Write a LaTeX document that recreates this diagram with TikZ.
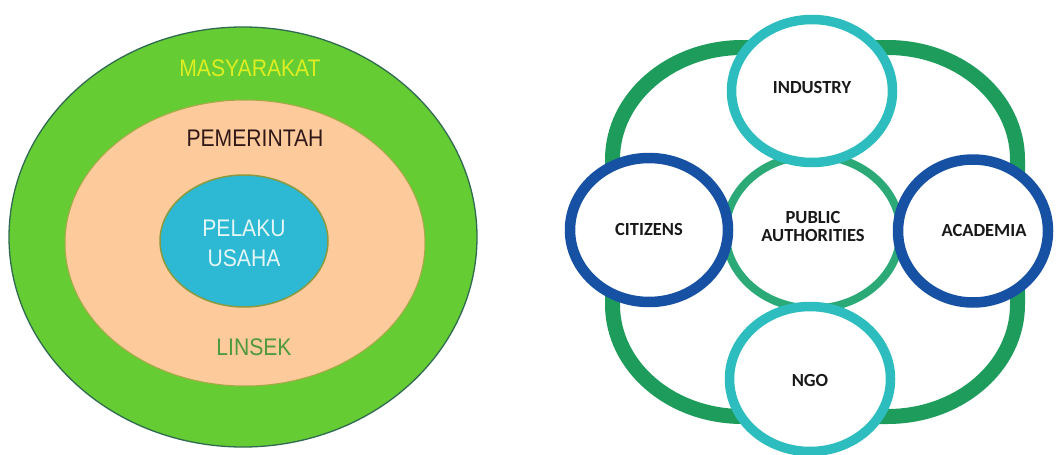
\documentclass[tikz,border=0pt]{standalone}
\usepackage{fontspec}
\usetikzlibrary{shapes.geometric}
\newfontfamily\lfont[FakeStretch=0.88]{Liberation Sans}
\newfontfamily\rfont{Carlito}
\definecolor{lgreen}{HTML}{66CC33}
\definecolor{lgreenline}{HTML}{2F6B50}
\definecolor{lorange}{HTML}{FDCB9B}
\definecolor{lorangeline}{HTML}{A8A848}
\definecolor{lcyan}{HTML}{2DB8D4}
\definecolor{lcyanline}{HTML}{8A9A40}
\definecolor{tyellow}{HTML}{DDEE22}
\definecolor{tbrown}{HTML}{301818}
\definecolor{tlight}{HTML}{E4F6F6}
\definecolor{tgreen}{HTML}{4C9A3C}
\definecolor{rgreen}{HTML}{1E9C5C}
\definecolor{rmid}{HTML}{2BAA78}
\definecolor{rcyan}{HTML}{2DBDBF}
\definecolor{rblue}{HTML}{1651A3}
\tikzset{
  oval/.style={ellipse, inner sep=0pt, outer sep=0pt},
  ltext/.style={font=\lfont\fontsize{24}{30}\selectfont, align=center, inner sep=0pt},
  rtext/.style={font=\rfont\bfseries\fontsize{18.5}{18}\selectfont, align=center, inner sep=0pt, text=black!90},
  partner/.style={oval, fill=white, line width=9.5pt},
  corner/.style={x radius=130pt, y radius=112pt}
}
\begin{document}
\begin{tikzpicture}[x=1pt,y=-1pt]
\useasboundingbox[fill=white] (0,0) rectangle (1060,455);
% left diagram
\node[oval, fill=lgreen, draw=lgreenline, line width=1.3pt, minimum width=468pt, minimum height=420pt] (soc) at (243,237) {};
\node[oval, fill=lorange, draw=lorangeline, line width=1pt, minimum width=360pt, minimum height=286pt] (gov) at (245,243) {};
\node[oval, fill=lcyan, draw=lcyanline, line width=1.5pt, minimum width=168pt, minimum height=132pt] (biz) at (244,241) {};
\node[ltext, text=tyellow] (tsoc) at (250,68) {MASYARAKAT};
\node[ltext, text=tbrown] (tgov) at (255,138) {PEMERINTAH};
\node[ltext, text=tlight] (tbiz) at (244,243) {PELAKU\\USAHA};
\node[ltext, text=tgreen] (tlin) at (254,347) {LINSEK};
% right diagram: outer ring
\draw[draw=rgreen, line width=15pt]
  (742.5,47.5) -- (887.5,47.5) arc[start angle=90, end angle=0, corner]
  -- (1017.5,304.5) arc[start angle=0, end angle=-90, corner]
  -- (742.5,416.5) arc[start angle=-90, end angle=-180, corner]
  -- (612.5,159.5) arc[start angle=180, end angle=90, corner] -- cycle;
\node[oval, draw=rmid, line width=8pt, minimum width=175pt, minimum height=153pt] (pub) at (813,232) {};
\node[partner, draw=rcyan, minimum width=161pt, minimum height=143pt] (ind) at (812,91) {};
\node[partner, draw=rcyan, minimum width=161pt, minimum height=145pt] (ngo) at (810,379) {};
\node[partner, draw=rblue, line width=10.5pt, minimum width=158pt, minimum height=144pt] (cit) at (649,230) {};
\node[partner, draw=rblue, line width=10.5pt, minimum width=150pt, minimum height=143pt] (aca) at (973,231) {};
\node[rtext] (tind) at (812,88) {INDUSTRY};
\node[rtext] (tcit) at (649,229) {CITIZENS};
\node[rtext] (taca) at (984,230) {ACADEMIA};
\node[rtext] (tngo) at (810,380) {NGO};
\node[rtext] (tpub) at (813,226) {PUBLIC\\AUTHORITIES};
\end{tikzpicture}
\end{document}
